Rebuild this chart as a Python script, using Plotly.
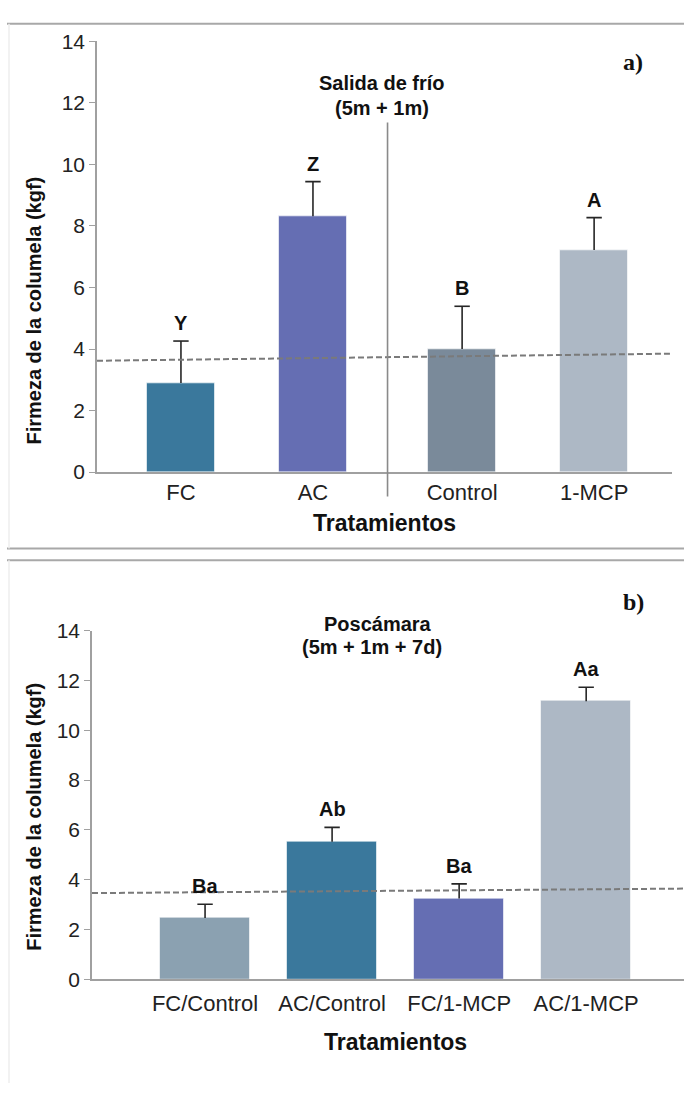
import plotly.graph_objects as go

W, H = 684, 1094

# ---- Panel a) Salida de frío (5m + 1m)
a_categories = ["FC", "AC", "Control", "1-MCP"]
a_values = [2.90, 8.32, 4.00, 7.22]
a_errors = [1.36, 1.12, 1.39, 1.05]
a_letters = ["Y", "Z", "B", "A"]
a_colors = ["#3A789C", "#656EB3", "#7A8A9A", "#ADB8C5"]
a_ref = [3.62, 3.85]          # dashed reference line, left / right end

# ---- Panel b) Poscámara (5m + 1m + 7d)
b_categories = ["FC/Control", "AC/Control", "FC/1-MCP", "AC/1-MCP"]
b_values = [2.46, 5.52, 3.24, 11.17]
b_errors = [0.55, 0.58, 0.59, 0.56]
b_letters = ["Ba", "Ab", "Ba", "Aa"]
b_colors = ["#8BA1B1", "#3A789C", "#656EB3", "#ADB8C5"]
b_ref = [3.46, 3.64]

y_ticks = [0, 2, 4, 6, 8, 10, 12, 14]

FONT = "Liberation Sans, Arial, sans-serif"
SERIF = "Liberation Serif, DejaVu Serif, serif"


def px(x):
    return x / W


def py(y):
    return 1 - y / H


# group gap between the two factor blocks in panel a
gap_a = 0.13
a_pos = [i + (gap_a if i >= 2 else 0) for i in range(len(a_categories))]
b_pos = list(range(len(b_categories)))
a_range = [-0.636, 3.72]
b_range = [-0.89, 3.77]

fig = go.Figure()


def add_panel(pos, values, errors, colors, ref, xrange, width, xa, ya):
    fig.add_trace(go.Bar(
        x=pos, y=values, width=width,
        marker=dict(color=colors, line=dict(color="rgba(255,255,255,0.6)", width=1)),
        xaxis=xa, yaxis=ya, showlegend=False, hoverinfo="skip",
    ))
    # upper-only error whiskers: stem from bar top, cap at the end
    sx, sy = [], []
    for p, v, e in zip(pos, values, errors):
        sx += [p, p, None]
        sy += [v, v + e, None]
    fig.add_trace(go.Scatter(
        x=sx, y=sy, mode="lines", line=dict(color="#262626", width=1.6),
        xaxis=xa, yaxis=ya, showlegend=False, hoverinfo="skip",
    ))
    fig.add_trace(go.Scatter(
        x=pos, y=[v + e for v, e in zip(values, errors)], mode="markers",
        marker=dict(symbol="line-ew", size=11, line=dict(color="#262626", width=1.6)),
        xaxis=xa, yaxis=ya, showlegend=False, hoverinfo="skip",
    ))
    fig.add_trace(go.Scatter(
        x=xrange, y=ref, mode="lines",
        line=dict(color="#7A7A7A", width=2, dash="6px,3px"),
        xaxis=xa, yaxis=ya, showlegend=False, hoverinfo="skip",
    ))


add_panel(a_pos, a_values, a_errors, a_colors, a_ref, a_range, 0.51, "x", "y")
add_panel(b_pos, b_values, b_errors, b_colors, b_ref, b_range, 0.71, "x2", "y2")

annotations = []
for xp, v, e, t in zip(a_pos, a_values, a_errors, a_letters):
    annotations.append(dict(x=xp, y=v + e, xref="x", yref="y", text=f"<b>{t}</b>",
                            showarrow=False, yanchor="bottom", yshift=5,
                            font=dict(family=FONT, size=20, color="#111")))
for xp, v, e, t in zip(b_pos, b_values, b_errors, b_letters):
    annotations.append(dict(x=xp, y=v + e, xref="x2", yref="y2", text=f"<b>{t}</b>",
                            showarrow=False, yanchor="bottom", yshift=5,
                            font=dict(family=FONT, size=20, color="#111")))

txt = [
    (382, 73, "<b>Salida de frío</b>", 20, FONT),
    (382, 98, "<b>(5m + 1m)</b>", 20, FONT),
    (384, 522, "<b>Tratamientos</b>", 23, FONT),
    (633, 51, "<b>a)</b>", 24, SERIF),
    (378, 625, "<b>Poscámara</b>", 20, FONT),
    (372, 649, "<b>(5m + 1m + 7d)</b>", 20, FONT),
    (395, 1052, "<b>Tratamientos</b>", 23, FONT),
    (633, 603, "<b>b)</b>", 24, SERIF),
]
for x, y, t, s, f in txt:
    annotations.append(dict(x=px(x), y=py(y), xref="paper", yref="paper", text=t,
                            showarrow=False, xanchor="center", yanchor="middle",
                            font=dict(family=f, size=s, color="#111")))
for y in (305, 822):
    annotations.append(dict(x=px(34), y=py(y), xref="paper", yref="paper",
                            text="<b>Firmeza de la columela (kgf)</b>", textangle=-90,
                            showarrow=False, xanchor="center", yanchor="middle",
                            font=dict(family=FONT, size=20, color="#111")))

frame = "#A8A8A8"
shapes = [
    dict(type="line", xref="paper", yref="paper", x0=px(7), x1=1, y0=py(12), y1=py(12),
         line=dict(color=frame, width=2)),
    dict(type="line", xref="paper", yref="paper", x0=px(7), x1=1, y0=py(548), y1=py(548),
         line=dict(color=frame, width=2)),
    dict(type="line", xref="paper", yref="paper", x0=px(7), x1=1, y0=py(560), y1=py(560),
         line=dict(color=frame, width=2)),
    dict(type="line", xref="paper", yref="paper", x0=px(9), x1=px(9), y0=py(12), y1=py(548),
         line=dict(color="#EEEEEE", width=1.5)),
    dict(type="line", xref="paper", yref="paper", x0=px(9), x1=px(9), y0=py(560), y1=0,
         line=dict(color="#EEEEEE", width=1.5)),
    # separator between storage atmosphere and 1-MCP blocks
    dict(type="line", xref="x", yref="paper", x0=(a_pos[1] + a_pos[2]) / 2,
         x1=(a_pos[1] + a_pos[2]) / 2, y0=py(113), y1=py(495),
         line=dict(color="#8A8A8A", width=1.6)),
]

axis_common = dict(showgrid=False, zeroline=False, showline=True, linecolor="#A0A0A0",
                   linewidth=1.6)
yaxis_common = dict(axis_common, range=[0, 14], tickvals=y_ticks, ticks="outside",
                    ticklen=6, tickcolor="#A0A0A0", tickwidth=1.2,
                    tickfont=dict(family=FONT, size=21, color="#222"))

fig.update_layout(
    width=W, height=H, margin=dict(l=0, r=0, t=0, b=0),
    paper_bgcolor="white", plot_bgcolor="white", bargap=0,
    xaxis=dict(axis_common, domain=[px(97), px(672)], range=a_range, anchor="y",
               tickvals=a_pos, ticktext=a_categories, ticks="",
               tickfont=dict(family=FONT, size=22, color="#222")),
    yaxis=dict(yaxis_common, domain=[py(470), py(30)], anchor="x"),
    xaxis2=dict(axis_common, domain=[px(92), 1.0], range=b_range, anchor="y2",
                tickvals=b_pos, ticktext=b_categories, ticks="", ticklabelstandoff=4,
                tickfont=dict(family=FONT, size=22, color="#222")),
    yaxis2=dict(yaxis_common, domain=[py(988), py(632)], anchor="x2"),
    annotations=annotations, shapes=shapes,
)

fig.write_html("out.html")
